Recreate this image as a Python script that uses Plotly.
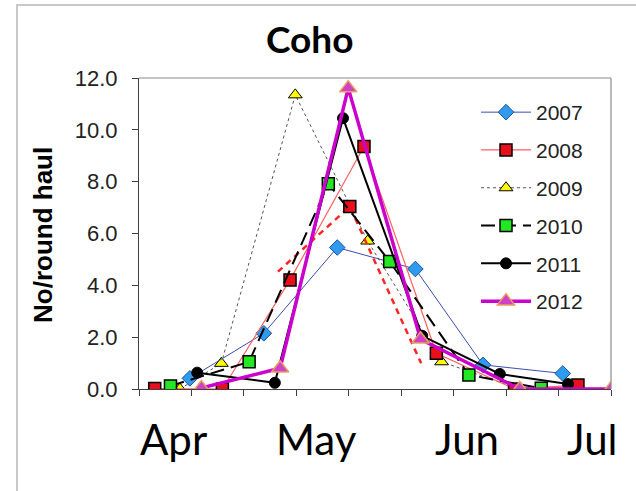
import plotly.graph_objects as go

# ---- data (x = position along the season axis, 0..9 ticks) ----
x2007 = [0.97, 2.38, 3.78, 5.27, 6.56, 8.08]
y2007 = [0.41, 2.15, 5.46, 4.63, 0.93, 0.60]

x2008 = [0.30, 1.59, 2.88, 4.29, 5.67, 7.16, 8.37]
y2008 = [0.02, 0.00, 4.21, 9.36, 1.38, 0.00, 0.15]

x2008b = [2.65, 4.02, 5.38]
y2008b = [4.53, 7.04, 0.99]

x2009 = [0.78, 1.57, 2.98, 4.36, 5.77, 7.25]
y2009 = [0.00, 0.99, 11.35, 5.71, 1.05, 0.00]

x2010 = [0.60, 2.10, 3.61, 4.78, 6.29, 7.67]
y2010 = [0.12, 1.05, 7.92, 4.92, 0.54, 0.03]

x2011 = [1.11, 2.59, 3.89, 5.40, 6.88, 8.18]
y2011 = [0.63, 0.24, 10.45, 2.05, 0.58, 0.19]

x2012 = [1.19, 2.69, 3.99, 5.37, 7.26, 9.00]
y2012 = [0.04, 0.80, 11.61, 1.92, 0.00, 0.00]

months = ["Apr", "May", "Jun", "Jul"]
month_pos = [0.65, 3.39, 6.25, 8.63]

yticks = [0, 2, 4, 6, 8, 10, 12]

# ---- figure ----
L, R, T, B = 139, 25, 78, 102
W, H = 636, 491
pw, ph = W - L - R, H - T - B

def px(x):
    return (x - L) / pw

def py(y):
    return (H - B - y) / ph

fig = go.Figure()

fig.add_trace(go.Scatter(
    x=x2009, y=y2009, name="2009", mode="lines+markers",
    line=dict(color="#555555", width=1, dash="dot"),
    marker=dict(symbol="triangle-up", size=12, color="#ffff00",
                line=dict(color="#000000", width=1)),
    legendgroup="g3", legendrank=3))

fig.add_trace(go.Scatter(
    x=x2007, y=y2007, name="2007", mode="lines+markers",
    line=dict(color="#3a4fb0", width=1),
    marker=dict(symbol="diamond", size=12, color="#2e9bef",
                line=dict(color="#1a50a0", width=1)),
    legendgroup="g1", legendrank=1))

fig.add_trace(go.Scatter(
    x=x2008, y=y2008, name="2008", mode="lines+markers",
    line=dict(color="#ff6060", width=1.2),
    marker=dict(symbol="square", size=12, color="#e8101a",
                line=dict(color="#000000", width=1.5)),
    legendgroup="g2", legendrank=2))

fig.add_trace(go.Scatter(
    x=x2008b, y=y2008b, name="2008b", mode="lines+markers", showlegend=False,
    line=dict(color="#ff2525", width=2.5, dash="6px,5px"),
    marker=dict(symbol="square", size=12, color="#e8101a",
                opacity=[0, 1, 0],
                line=dict(color="#000000", width=1.5))))

fig.add_trace(go.Scatter(
    x=x2010, y=y2010, name="2010", mode="lines+markers",
    line=dict(color="#000000", width=2, dash="14px,7px"),
    marker=dict(symbol="square", size=12, color="#22e822",
                line=dict(color="#000000", width=1.5)),
    legendgroup="g4", legendrank=4))

fig.add_trace(go.Scatter(
    x=x2011, y=y2011, name="2011", mode="lines+markers",
    line=dict(color="#000000", width=2),
    marker=dict(symbol="circle", size=11, color="#000000",
                line=dict(color="#000000", width=1)),
    legendgroup="g5", legendrank=5))

fig.add_trace(go.Scatter(
    x=x2012, y=y2012, name="2012", mode="lines+markers",
    line=dict(color="#cc00cc", width=3.5),
    marker=dict(symbol="triangle-up", size=15, color="#d040c8",
                line=dict(color="#e8a060", width=1.5)),
    legendgroup="g6", legendrank=6))

axis_common = dict(showgrid=False, zeroline=False, ticks="outside",
                   ticklen=6, tickwidth=1, tickcolor="#404040",
                   showline=True, linecolor="#404040", linewidth=1.2)

fig.update_xaxes(range=[0, 9], tickvals=list(range(10)), showticklabels=False,
                 **axis_common)
fig.update_yaxes(range=[0, 12], tickvals=yticks,
                 ticktext=[f"{v:.1f}" for v in yticks],
                 ticklabelstandoff=10,
                 tickfont=dict(family="Liberation Sans", size=22, color="#222222"),
                 **axis_common)

annotations = [
    dict(text="<b>Coho</b>", xref="paper", yref="paper", x=px(309), y=py(39),
         showarrow=False, xanchor="center", yanchor="middle",
         font=dict(family="Lato", size=37, color="#000000")),
    dict(text="<b>No/round haul</b>", xref="paper", yref="paper", x=px(43), y=py(235),
         showarrow=False, xanchor="center", yanchor="middle", textangle=-90,
         font=dict(family="Liberation Sans", size=26, color="#000000")),
]
for m, p in zip(months, month_pos):
    annotations.append(dict(text=m, xref="x", yref="paper", x=p, y=py(439),
                            showarrow=False, xanchor="center", yanchor="middle",
                            font=dict(family="Lato", size=42, color="#000000")))

shapes = [
    # top and right frame of plot area
    dict(type="line", xref="paper", yref="paper", x0=0, x1=1, y0=1, y1=1,
         line=dict(color="#8a8a8a", width=1.2)),
    dict(type="line", xref="paper", yref="paper", x0=1, x1=1, y0=0, y1=1,
         line=dict(color="#8a8a8a", width=1.2)),
    # outer light frame
    dict(type="rect", xref="paper", yref="paper", x0=px(17), x1=px(650),
         y0=py(500), y1=py(5), line=dict(color="#c8c8c8", width=2),
         layer="below"),
]

fig.update_layout(
    width=W, height=H,
    margin=dict(l=L, r=R, t=T, b=B),
    paper_bgcolor="#ffffff", plot_bgcolor="#ffffff",
    showlegend=True,
    legend=dict(x=px(476), y=py(92), xanchor="left", yanchor="top",
                traceorder="grouped", tracegroupgap=7.5,
                font=dict(family="Liberation Sans", size=21, color="#222222"),
                bgcolor="rgba(255,255,255,0)", borderwidth=0,
                itemwidth=50),
    annotations=annotations,
    shapes=shapes,
)

fig.write_html("out.html")
